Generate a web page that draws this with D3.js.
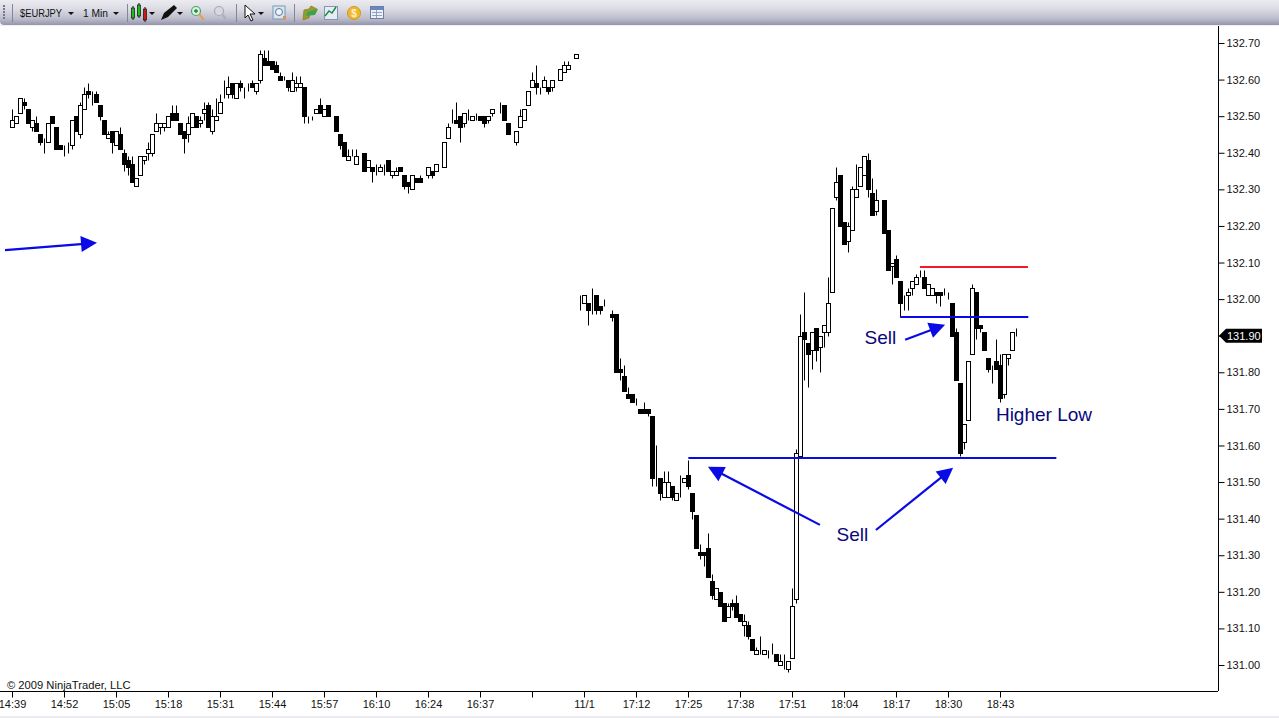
<!DOCTYPE html>
<html><head><meta charset="utf-8">
<style>html,body{margin:0;padding:0;background:#fff;overflow:hidden}svg{display:block}text{font-family:"Liberation Sans",Arial,sans-serif}</style>
<script src="https://cdn.jsdelivr.net/npm/d3@7"></script></head><body>
<svg id="c" width="1279" height="718"></svg>
<script>
const opens=[
132.47,132.48,132.51,132.54,132.52,132.47,132.48,132.45,132.42,132.43,
132.50,132.47,132.42,132.42,132.41,132.42,132.50,132.45,132.52,132.57,
132.55,132.56,132.53,132.49,132.44,132.46,132.42,132.45,132.40,132.38,
132.37,132.31,132.34,132.38,132.40,132.40,132.46,132.47,132.47,132.47,
132.51,132.51,132.48,132.46,132.45,132.47,132.50,132.48,132.51,132.53,
132.46,132.49,132.51,132.55,132.56,132.59,132.55,132.59,132.57,132.58,
132.59,132.57,132.60,132.66,132.65,132.65,132.64,132.61,132.61,132.60,
132.57,132.58,132.58,132.58,132.49,132.50,132.51,132.53,132.50,132.53,
132.49,132.50,132.45,132.43,132.38,132.39,132.37,132.39,132.40,132.36,
132.36,132.36,132.35,132.37,132.38,132.34,132.34,132.36,132.34,132.32,
132.30,132.33,132.33,132.33,132.34,132.35,132.35,132.36,132.36,132.44,
132.48,132.49,132.50,132.48,132.50,132.49,132.51,132.50,132.50,132.49,
132.51,132.53,132.52,132.53,132.48,132.44,132.43,132.47,132.49,132.53,
132.58,132.59,132.57,132.58,132.58,132.58,132.59,132.60,132.62,132.63,
132.65,132.66,
132.01,131.99,131.99,131.99,132.01,131.98,131.98,131.97,
131.96,131.96,131.81,131.79,131.74,131.74,131.71,131.70,131.70,131.70,
131.68,131.52,131.51,131.46,131.46,131.49,131.45,131.48,131.50,131.52,
131.47,131.41,131.31,131.31,131.32,131.23,131.18,131.20,131.17,131.13,
131.17,131.17,131.14,131.11,131.11,131.07,131.03,131.05,131.03,131.03,
131.04,131.03,131.00,131.00,130.99,131.02,131.18,131.57,131.91,131.88,
131.86,131.92,131.87,131.91,131.91,132.02,132.28,132.34,132.21,132.16,
132.19,132.28,132.31,132.34,132.38,132.29,132.24,132.26,132.27,132.19,
132.09,132.11,132.05,132.00,132.01,132.03,132.04,132.07,132.06,132.01,
132.01,132.02,132.02,132.02,132.01,131.99,131.91,131.77,131.61,131.67,
131.85,132.02,131.93,131.91,131.84,131.82,131.83,131.82,131.74,131.84,
131.86,131.90];
const highs=[
132.52,132.50,132.55,132.55,132.52,132.49,132.50,132.45,132.44,132.48,
132.50,132.47,132.42,132.42,132.43,132.49,132.50,132.54,132.58,132.59,
132.57,132.57,132.53,132.49,132.46,132.46,132.46,132.47,132.41,132.39,
132.39,132.33,132.39,132.39,132.43,132.45,132.51,132.48,132.48,132.50,
132.53,132.53,132.48,132.46,132.50,132.51,132.50,132.50,132.54,132.54,
132.52,132.55,132.56,132.60,132.61,132.59,132.59,132.60,132.58,132.59,
132.60,132.59,132.68,132.68,132.68,132.65,132.65,132.62,132.61,132.60,
132.62,132.61,132.61,132.58,132.50,132.50,132.52,132.55,132.52,132.53,
132.49,132.50,132.45,132.43,132.41,132.41,132.41,132.39,132.40,132.38,
132.36,132.37,132.37,132.37,132.38,132.35,132.36,132.36,132.34,132.32,
132.34,132.33,132.34,132.33,132.36,132.35,132.37,132.36,132.43,132.48,
132.52,132.54,132.50,132.51,132.52,132.50,132.51,132.50,132.50,132.50,
132.52,132.53,132.54,132.53,132.48,132.44,132.46,132.52,132.52,132.57,
132.62,132.64,132.58,132.61,132.58,132.60,132.59,132.63,132.65,132.65,
132.65,132.67,
132.01,132.01,131.99,132.03,132.01,131.98,132.00,131.97,
131.97,131.96,131.84,131.82,131.76,131.74,131.73,131.70,131.72,131.70,
131.68,131.60,131.51,131.53,131.53,131.49,131.47,131.52,131.51,131.56,
131.47,131.41,131.33,131.31,131.36,131.25,131.21,131.20,131.17,131.17,
131.18,131.19,131.14,131.14,131.12,131.07,131.05,131.08,131.04,131.04,
131.06,131.03,131.03,131.03,131.01,131.21,131.59,131.96,132.02,131.88,
131.91,131.92,131.90,131.93,132.06,132.25,132.36,132.34,132.21,132.21,
132.31,132.37,132.36,132.39,132.40,132.33,132.30,132.26,132.27,132.19,
132.10,132.12,132.05,132.01,132.03,132.05,132.07,132.08,132.08,132.04,
132.03,132.02,132.02,132.03,132.02,131.99,131.92,131.77,131.66,131.83,
132.04,132.02,131.93,131.91,131.84,131.82,131.89,131.85,131.85,131.85,
131.91,131.92];
const lows=[
132.47,132.48,132.51,132.52,132.48,132.46,132.46,132.42,132.40,132.43,
132.48,132.41,132.41,132.39,132.40,132.41,132.46,132.44,132.52,132.55,
132.53,132.54,132.49,132.45,132.44,132.40,132.42,132.41,132.35,132.34,
132.32,132.31,132.34,132.37,132.38,132.39,132.46,132.45,132.46,132.47,
132.49,132.49,132.45,132.40,132.43,132.47,132.47,132.47,132.49,132.47,
132.45,132.49,132.51,132.55,132.55,132.55,132.55,132.57,132.55,132.57,
132.58,132.56,132.59,132.64,132.64,132.63,132.62,132.60,132.60,132.57,
132.57,132.57,132.58,132.48,132.48,132.49,132.51,132.51,132.50,132.50,
132.49,132.46,132.41,132.39,132.38,132.39,132.37,132.39,132.35,132.36,
132.32,132.34,132.35,132.34,132.35,132.33,132.34,132.35,132.30,132.29,
132.30,132.32,132.32,132.33,132.33,132.33,132.35,132.36,132.36,132.44,
132.48,132.48,132.43,132.47,132.49,132.49,132.49,132.49,132.47,132.48,
132.50,132.53,132.51,132.49,132.45,132.44,132.42,132.47,132.49,132.53,
132.58,132.56,132.56,132.58,132.56,132.57,132.59,132.60,132.62,132.63,
132.65,132.66,
131.97,131.99,131.93,131.96,131.96,131.96,131.98,131.97,
131.94,131.80,131.78,131.75,131.73,131.72,131.71,131.69,131.69,131.68,
131.49,131.49,131.45,131.46,131.46,131.45,131.45,131.46,131.50,131.48,
131.40,131.32,131.29,131.27,131.24,131.18,131.18,131.16,131.12,131.13,
131.15,131.13,131.12,131.08,131.07,131.04,131.03,131.03,131.03,131.02,
131.03,131.01,131.00,130.99,130.98,131.02,131.17,131.57,131.78,131.76,
131.81,131.83,131.80,131.87,131.90,132.02,132.27,132.20,132.15,132.13,
132.19,132.28,132.31,132.34,132.28,132.23,132.23,132.26,132.18,132.08,
132.04,132.06,131.95,131.97,131.97,132.01,132.04,132.06,132.03,132.01,
132.01,131.99,131.98,132.01,132.00,131.90,131.78,131.57,131.59,131.67,
131.85,131.89,131.91,131.86,131.80,131.77,131.81,131.72,131.73,131.82,
131.86,131.90];
const closes=[
132.49,132.50,132.55,132.53,132.48,132.49,132.46,132.43,132.42,132.48,
132.48,132.41,132.41,132.42,132.41,132.49,132.46,132.53,132.56,132.56,
132.55,132.54,132.50,132.45,132.45,132.43,132.46,132.41,132.37,132.36,
132.32,132.33,132.39,132.39,132.41,132.45,132.48,132.48,132.48,132.50,
132.49,132.49,132.45,132.44,132.48,132.51,132.47,132.49,132.52,132.47,
132.50,132.50,132.54,132.55,132.58,132.56,132.59,132.58,132.57,132.58,
132.58,132.59,132.67,132.64,132.64,132.63,132.62,132.60,132.61,132.58,
132.60,132.59,132.59,132.50,132.49,132.50,132.52,132.51,132.52,132.50,
132.49,132.46,132.42,132.39,132.39,132.39,132.39,132.39,132.35,132.38,
132.35,132.36,132.36,132.37,132.35,132.35,132.35,132.35,132.31,132.31,
132.34,132.32,132.32,132.33,132.36,132.34,132.37,132.36,132.43,132.47,
132.48,132.48,132.47,132.51,132.50,132.50,132.51,132.49,132.48,132.50,
132.52,132.53,132.52,132.49,132.45,132.44,132.46,132.50,132.52,132.57,
132.60,132.58,132.57,132.60,132.57,132.60,132.59,132.63,132.64,132.64,
132.65,132.67,
132.01,132.01,131.97,131.99,131.97,131.97,131.98,131.97,
131.95,131.80,131.80,131.75,131.73,131.72,131.71,131.69,131.69,131.69,
131.51,131.52,131.47,131.50,131.50,131.46,131.47,131.48,131.51,131.49,
131.42,131.32,131.30,131.30,131.24,131.19,131.21,131.16,131.12,131.16,
131.16,131.13,131.12,131.12,131.08,131.04,131.04,131.05,131.04,131.03,
131.04,131.01,131.01,131.00,131.01,131.16,131.58,131.90,131.89,131.85,
131.91,131.86,131.90,131.93,131.99,132.25,132.32,132.20,132.15,132.20,
132.30,132.30,132.36,132.39,132.30,132.23,132.27,132.26,132.18,132.08,
132.10,132.06,131.99,132.00,132.02,132.05,132.06,132.07,132.03,132.04,
132.03,132.01,132.01,132.02,132.01,131.90,131.78,131.58,131.66,131.83,
132.03,131.92,131.92,131.86,131.81,131.82,131.81,131.73,131.85,131.85,
131.91,131.90];

const priceTicks=[131.0,131.1,131.2,131.3,131.4,131.5,131.6,131.7,131.8,131.9,132.0,132.1,132.2,132.3,132.4,132.5,132.6,132.7];
const timeLabels=["14:39","14:52","15:05","15:18","15:31","15:44","15:57","16:10","16:24","16:37","","11/1","17:12","17:25","17:38","17:51","18:04","18:17","18:30","18:43"];
const barsPerLabel=13;
const lastPrice=131.90;
// annotations, in bar index and price
const levels=[
 {from:226.9,to:253.9,price:132.088,color:"#ee1c24",w:2},
 {from:222,to:254,price:131.951,color:"#0a0ae6",w:2},
 {from:169,to:261,price:131.566,color:"#0a0ae6",w:2}];
const arrows=[
 {i0:-1.83,p0:132.134,i1:21.17,p1:132.154},
 {i0:223.2,p0:131.889,i1:233.2,p1:131.93},
 {i0:201.9,p0:131.383,i1:173.9,p1:131.542},
 {i0:215.9,p0:131.369,i1:235.2,p1:131.539}];
const notes=[
 {text:"Sell",i:217,p:131.894,anchor:"middle"},
 {text:"Sell",i:210,p:131.358,anchor:"middle"},
 {text:"Higher Low",i:245.9,p:131.684,anchor:"start"}];

const svg=d3.select("#c");
const x=d3.scaleLinear().domain([0,251]).range([12.33,1016.33]);
const y=d3.scaleLinear().domain([131,132.7]).range([665,43]);
const plotRight=1218, plotBottom=691;
const px=v=>Math.floor(x(v))+.5, py=v=>Math.round(y(v))+.5;

// toolbar
const defs=svg.append("defs");
const g1=defs.append("linearGradient").attr("id","tb").attr("x1",0).attr("x2",0).attr("y1",0).attr("y2",1);
[[0,"#ecebf1"],[.35,"#dcdce5"],[.75,"#bcbccc"],[1,"#9595aa"]].forEach(s=>g1.append("stop").attr("offset",s[0]).attr("stop-color",s[1]));
const tb=svg.append("g");
tb.append("rect").attr("x",0).attr("y",0).attr("width",1279).attr("height",25).attr("fill","url(#tb)");
tb.append("path").attr("d","M0,25V21Q0,25 4,25z").attr("fill","#fff");
tb.append("rect").attr("x",0).attr("y",25).attr("width",1279).attr("height",1).attr("fill","#eeeef2");
[5,8,11,14,17].forEach(v=>tb.append("rect").attr("x",3).attr("y",v).attr("width",2).attr("height",2).attr("fill","#77778a"));
[12,127,236,294].forEach(v=>tb.append("line").attr("x1",v+.5).attr("x2",v+.5).attr("y1",4).attr("y2",22).attr("stroke","#85859a"));
tb.append("text").attr("x",20).attr("y",17).attr("font-size",11).attr("fill","#111").attr("textLength",42).attr("lengthAdjust","spacingAndGlyphs").text("$EURJPY");
tb.append("text").attr("x",83).attr("y",17).attr("font-size",11).attr("fill","#111").attr("textLength",25).attr("lengthAdjust","spacingAndGlyphs").text("1 Min");
[[71,13],[116,13],[152,13],[180,13],[261,13]].forEach(a=>tb.append("path").attr("d",`M${a[0]-3},${a[1]-1}h6l-3,3z`).attr("fill","#111"));
[[133,8,18,"#16c016"],[139,5,16,"#16c016"],[145,9,20,"#d01818"]].forEach(a=>{
 tb.append("line").attr("x1",a[0]).attr("x2",a[0]).attr("y1",a[1]-2).attr("y2",a[2]+2).attr("stroke","#111");
 tb.append("rect").attr("x",a[0]-1.5).attr("y",a[1]).attr("width",3).attr("height",a[2]-a[1]).attr("fill",a[3]).attr("stroke","#111").attr("stroke-width",.7);});
tb.append("path").attr("d","M161,20 L164,13 L174,5 L177,8 L168,17z").attr("fill","#111");
tb.append("circle").attr("cx",196).attr("cy",11).attr("r",4.5).attr("fill","#d8f0e0").attr("stroke","#50a070").attr("stroke-width",1.2);
tb.append("path").attr("d","M194,11h4M196,9v4").attr("stroke","#109030").attr("stroke-width",1.4);
tb.append("line").attr("x1",199).attr("y1",14).attr("x2",204).attr("y2",20).attr("stroke","#e0a060").attr("stroke-width",2.4);
tb.append("circle").attr("cx",219).attr("cy",11).attr("r",4.5).attr("fill","#d8d8e0").attr("stroke","#a8a8b4").attr("stroke-width",1.2);
tb.append("line").attr("x1",222).attr("y1",14).attr("x2",226).attr("y2",19).attr("stroke","#b0b0b8").attr("stroke-width",2.2);
tb.append("path").attr("d","M245,5 L245,18 L248,15 L251,21 L253,20 L250,14 L255,14z").attr("fill","#fff").attr("stroke","#111");
tb.append("rect").attr("x",273).attr("y",6).attr("width",12).attr("height",13).attr("fill","#d8e6f4").attr("stroke","#7898b8");
tb.append("circle").attr("cx",279).attr("cy",12).attr("r",3.5).attr("fill","#eef4fa").attr("stroke","#607890");
tb.append("rect").attr("x",283).attr("y",16).attr("width",3).attr("height",3).attr("fill","#e09050");
tb.append("path").attr("d","M303,20 L304,10 L309,9 L311,6 L317,9 L315,13 L310,14 L309,18z").attr("fill","#90a030").attr("stroke","#a07818").attr("stroke-width",.8);
tb.append("path").attr("d","M307,12 L318,9 L315,15 L306,16z").attr("fill","#40a050");
tb.append("rect").attr("x",324.5).attr("y",6.5).attr("width",13).attr("height",13).attr("fill","#e4ecf6").attr("stroke","#8098b0");
tb.append("path").attr("d","M325,16 L329,11 L332,13 L336,7").attr("fill","none").attr("stroke","#208840").attr("stroke-width",1.4);
tb.append("circle").attr("cx",354).attr("cy",13).attr("r",6.5).attr("fill","#f0b830").attr("stroke","#d09818");
tb.append("text").attr("x",354).attr("y",17).attr("text-anchor","middle").attr("font-size",10).attr("font-weight","bold").attr("fill","#fff3c8").text("$");
tb.append("rect").attr("x",370.5).attr("y",6.5).attr("width",13).attr("height",12).attr("fill","#eef0f6").attr("stroke","#6880a8");
tb.append("rect").attr("x",371).attr("y",7).attr("width",12).attr("height",3).attr("fill","#6888c0");
tb.append("path").attr("d","M372,12.5h10M372,15.5h10M376.5,10v8").attr("stroke","#7890b8").attr("stroke-width",.8);

// bars
const bars=svg.append("g").selectAll("g").data(opens.map((o,i)=>({i,o,h:highs[i],l:lows[i],c:closes[i]}))).join("g");
bars.append("line").attr("x1",d=>px(d.i)).attr("x2",d=>px(d.i)).attr("y1",d=>py(d.h)).attr("y2",d=>py(d.l)).attr("stroke","#000");
bars.append("rect")
 .attr("x",d=>px(d.i)-2).attr("width",4)
 .attr("y",d=>py(Math.max(d.o,d.c)))
 .attr("height",d=>py(Math.min(d.o,d.c))-py(Math.max(d.o,d.c)))
 .attr("fill",d=>d.c<d.o?"#000":"#fff").attr("stroke","#000");

// axes
const FONT='"Liberation Sans",Arial,sans-serif';
const yAxis=d3.axisRight(y).tickValues(priceTicks).tickFormat(d3.format(".2f")).tickSize(6).tickPadding(2);
const yg=svg.append("g").attr("transform",`translate(${plotRight+.5},0)`).call(yAxis);
yg.select(".domain").attr("d",`M0,26V${plotBottom}`);
yg.selectAll("text").attr("font-size",11).attr("fill","#111").style("font-family",FONT);
const tickIdx=timeLabels.map((_,k)=>k*barsPerLabel);
const xAxis=d3.axisBottom(x).tickValues(tickIdx).tickFormat((d,k)=>timeLabels[k]).tickSize(6).tickPadding(3);
const xg=svg.append("g").attr("transform",`translate(0,${plotBottom+.5})`).call(xAxis);
xg.select(".domain").attr("d",`M0,0H${plotRight}`);
xg.selectAll(".tick").attr("transform",d=>`translate(${px(d)},0)`);
xg.selectAll("text").attr("font-size",11).attr("fill","#111").style("font-family",FONT);
svg.selectAll(".tick line,.domain").attr("stroke","#000");

svg.append("text").attr("x",7).attr("y",689).attr("font-size",11.2).attr("fill","#111").text("© 2009 NinjaTrader, LLC");
svg.append("rect").attr("x",0).attr("y",716).attr("width",1279).attr("height",2).attr("fill","#ececf0");

// last price marker
const ly=y(lastPrice);
svg.append("path").attr("d",`M${plotRight+1},${ly} l7,-7 H1262 V${ly+7} H${plotRight+8} z`).attr("fill","#000");
svg.append("text").attr("x",1227).attr("y",ly+4).attr("font-size",11).attr("fill","#fff").text(d3.format(".2f")(lastPrice));

// annotation lines
svg.append("g").selectAll("line").data(levels).join("line")
 .attr("x1",d=>x(d.from)).attr("x2",d=>x(d.to)).attr("y1",d=>y(d.price)).attr("y2",d=>y(d.price))
 .attr("stroke",d=>d.color).attr("stroke-width",d=>d.w);
const head=16,hw=8;
const ag=svg.append("g").selectAll("g").data(arrows).join("g");
ag.append("line").attr("x1",d=>x(d.i0)).attr("y1",d=>y(d.p0))
 .attr("x2",d=>{const a=Math.atan2(y(d.p1)-y(d.p0),x(d.i1)-x(d.i0));return x(d.i1)-Math.cos(a)*head*.8;})
 .attr("y2",d=>{const a=Math.atan2(y(d.p1)-y(d.p0),x(d.i1)-x(d.i0));return y(d.p1)-Math.sin(a)*head*.8;})
 .attr("stroke","#0a0ae6").attr("stroke-width",2.2);
ag.append("path").attr("fill","#0a0ae6").attr("d",d=>{
 const X=x(d.i1),Y=y(d.p1),a=Math.atan2(Y-y(d.p0),X-x(d.i0)),c=Math.cos(a),s=Math.sin(a);
 return `M${X},${Y}L${X-c*head-s*hw},${Y-s*head+c*hw}L${X-c*head+s*hw},${Y-s*head-c*hw}z`;});
svg.append("g").selectAll("text").data(notes).join("text")
 .attr("x",d=>x(d.i)).attr("y",d=>y(d.p)+6.5).attr("text-anchor",d=>d.anchor)
 .attr("font-size",19).attr("fill","#08087c").text(d=>d.text);
</script></body></html>
